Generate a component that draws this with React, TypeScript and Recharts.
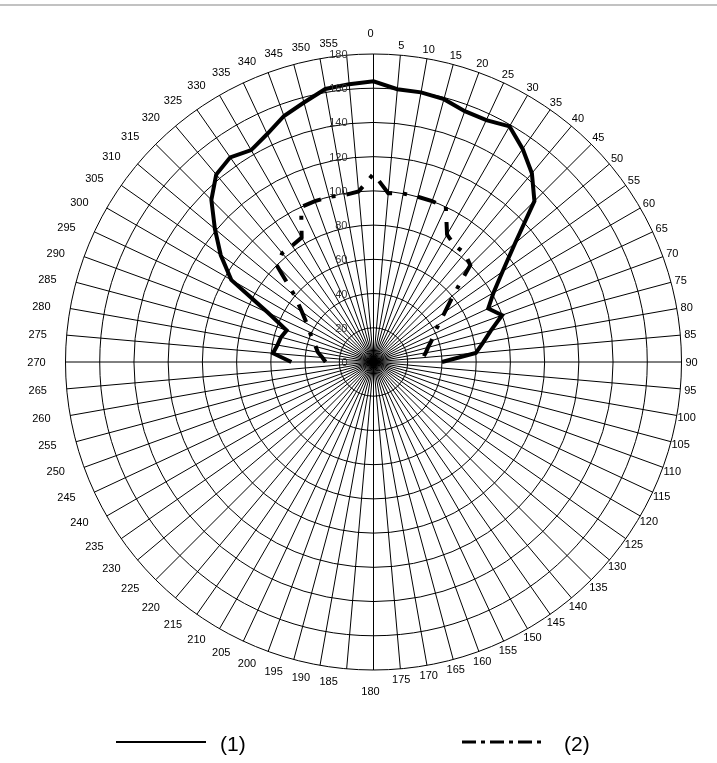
import React from 'react';
import { RadarChart, PolarGrid, PolarAngleAxis, PolarRadiusAxis, Radar } from 'recharts';

// grid spokes (every 5 degrees, clockwise from top)
const gridAngles = [
  0, 5, 10, 15, 20, 25, 30, 35, 40, 45, 50, 55, 60, 65, 70, 75, 80, 85,
  90, 95, 100, 105, 110, 115, 120, 125, 130, 135, 140, 145, 150, 155, 160, 165, 170, 175,
  180, 185, 190, 195, 200, 205, 210, 215, 220, 225, 230, 235, 240, 245, 250, 255, 260, 265,
  270, 275, 280, 285, 290, 295, 300, 305, 310, 315, 320, 325, 330, 335, 340, 345, 350, 355,
];

// radial tick values
const radiusTicks = [0, 20, 40, 60, 80, 100, 120, 140, 160, 180];

// angles where the curves are measured (from 270 over the top to 90)
const curveAngles = [
  270, 275, 280, 285, 290, 295, 300, 305, 310, 315, 320, 325, 330, 335, 340, 345, 350, 355,
  0, 5, 10, 15, 20, 25, 30, 35, 40, 45, 50, 55, 60, 65, 70, 75, 80, 85, 90,
];

// series (1) - solid
const series1 = [
  48, 59, 57, 56, 54, 68, 96, 109, 121, 134, 143, 146, 143, 147, 153, 157, 162, 163,
  164, 160, 160, 159, 156, 156, 159, 152, 144, 133, 108, 92, 81, 74, 80, 71, 65, 60, 40,
];

// series (2) - dash-dot
const series2 = [
  28, 30, 33, 35, 38, 41, 45, 51, 60, 80, 83, 83, 84, 100, 100, 100, 99, 100,
  110, 99, 100, 100, 100, 100, 86, 83, 83, 80, 61, 51, 44, 39, 36, 33, 31, 29, 27,
];

const seriesNames = ['(1)', '(2)'];

const data = gridAngles.map((a) => {
  const i = curveAngles.indexOf(a);
  return {
    angle: a,
    s1: i >= 0 ? series1[i] : null,
    s2: i >= 0 ? series2[i] : null,
  };
});

const FONT = '"Liberation Sans", Arial, Helvetica, sans-serif';

const makeCurve = (key: string, dash?: string) => (props: any) => {
  const pts = (props.points || [])
    .filter(
      (p: any) =>
        p && p.payload && p.payload[key] != null && Number.isFinite(p.x) && Number.isFinite(p.y)
    )
    .sort(
      (a: any, b: any) =>
        curveAngles.indexOf(a.payload.angle) - curveAngles.indexOf(b.payload.angle)
    );
  const d = pts.map((p: any, i: number) => `${i ? 'L' : 'M'}${p.x},${p.y}`).join('');
  return (
    <path
      d={d}
      fill="none"
      stroke="#000"
      strokeWidth={4}
      strokeDasharray={dash}
      strokeLinejoin="miter"
    />
  );
};

const AngleTick = (props: any) => {
  const { x, y, payload } = props;
  const a = (payload.coordinate * Math.PI) / 180;
  const ux = Math.cos(a);
  const uy = -Math.sin(a);
  let dx = 0;
  let dy = 0;
  if (Math.abs(ux) < 0.01) {
    dx = 11 * ux - 3;
    dy = 11 * uy;
  } else if (ux < 0) {
    dx = 2 * ux - 17;
    dy = 2 * uy;
  }
  return (
    <text
      x={x + dx}
      y={y + dy}
      textAnchor="middle"
      dominantBaseline="central"
      fontSize={11}
      fontFamily={FONT}
      fill="#000"
    >
      {payload.value}
    </text>
  );
};

const RadiusTick = (props: any) => {
  const { x, y, payload } = props;
  return (
    <text
      x={x - 26}
      y={y}
      textAnchor="end"
      dominantBaseline="central"
      fontSize={11}
      fontFamily={FONT}
      fill="#333"
    >
      {payload.value}
    </text>
  );
};

export default function App() {
  return (
    <div
      style={{
        position: 'absolute',
        left: 0,
        top: 0,
        width: 717,
        height: 763,
        background: '#fff',
        overflow: 'hidden',
        filter: 'grayscale(1)',
      }}
    >
      <div
        style={{
          position: 'absolute',
          left: 0,
          top: 4,
          width: 717,
          height: 2,
          background: '#c2c2c2',
        }}
      />
      <div style={{ position: 'absolute', left: 0, top: 0 }}>
        <RadarChart
          width={717}
          height={763}
          cx={373.5}
          cy={362}
          outerRadius={308}
          data={data}
          startAngle={90}
          endAngle={-270}
        >
          <PolarGrid gridType="circle" stroke="#000" strokeWidth={1} strokeOpacity={1} />
          <PolarAngleAxis
            dataKey="angle"
            tick={<AngleTick />}
            tickLine={false}
            axisLine={false}
            tickSize={10}
          />
          <PolarRadiusAxis
            angle={90}
            domain={[0, 180]}
            ticks={radiusTicks as any}
            tickCount={10}
            type="number"
            axisLine={false}
            tickLine={false}
            tick={<RadiusTick />}
          />
          <Radar
            name={seriesNames[0]}
            dataKey="s1"
            stroke="#000"
            fill="none"
            isAnimationActive={false}
            shape={makeCurve('s1')}
          />
          <Radar
            name={seriesNames[1]}
            dataKey="s2"
            stroke="#000"
            fill="none"
            isAnimationActive={false}
            shape={makeCurve('s2', '19 11 4 11')}
          />
        </RadarChart>
      </div>
      <svg
        width={717}
        height={60}
        style={{ position: 'absolute', left: 0, top: 712 }}
      >
        <line x1={116} y1={30} x2={206} y2={30} stroke="#000" strokeWidth={2} />
        <text
          x={220}
          y={31}
          dominantBaseline="central"
          fontSize={21}
          fontFamily={FONT}
          fill="#000"
        >
          {seriesNames[0]}
        </text>
        <line
          x1={462}
          y1={30}
          x2={546}
          y2={30}
          stroke="#000"
          strokeWidth={3}
          strokeDasharray="14 5 4 5"
        />
        <text
          x={564}
          y={31}
          dominantBaseline="central"
          fontSize={21}
          fontFamily={FONT}
          fill="#000"
        >
          {seriesNames[1]}
        </text>
      </svg>
    </div>
  );
}
